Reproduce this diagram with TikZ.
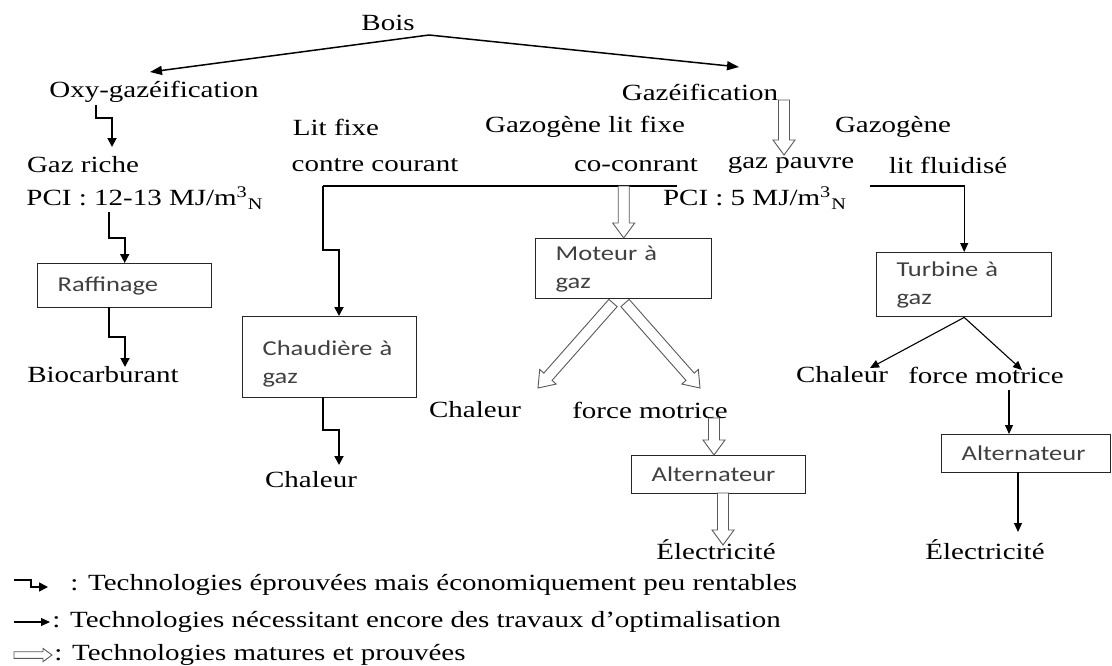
\documentclass[tikz,border=0pt]{standalone}
\usepackage{fontspec}
\setmainfont{Liberation Serif}[FakeStretch=1.25]
\newfontfamily\boxfont{Carlito}[FakeStretch=1.25]
\usetikzlibrary{arrows.meta,calc,positioning}

\tikzset{
  lbl/.style={inner sep=1pt, font=\fontsize{11.6}{13}\selectfont, text=black},
  procbox/.style={draw=black!85, line width=0.7pt, anchor=north west, align=left,
    inner xsep=10pt, inner ysep=2pt, font=\boxfont\fontsize{10.6}{14}\selectfont, text=black!75},
  devarrow/.style={line width=0.55pt, -{Triangle[length=4.5pt,width=4pt]}},
  steparrow/.style={line width=0.9pt, -{Triangle[length=4.5pt,width=4.5pt]}},
  fat/.style={draw=black!65, fill=white, line width=0.45pt, line join=miter},
}

% hollow arrow from #2 to #3, #1 = size factor
\newcommand{\fatarrow}[3][1]{%
  \coordinate (fatbase) at ($(#3)!{#1*7.5pt}!(#2)$);
  \draw[fat] ($(#2)!{#1*2.75pt}!90:(#3)$) -- ($(fatbase)!{#1*2.75pt}!-90:(#2)$)
    -- ($(fatbase)!{#1*5.5pt}!-90:(#2)$) -- (#3)
    -- ($(fatbase)!{#1*5.5pt}!90:(#2)$) -- ($(fatbase)!{#1*2.75pt}!90:(#2)$)
    -- ($(#2)!{#1*2.75pt}!-90:(#3)$) -- cycle;}

\begin{document}
\begin{tikzpicture}[x=0.5pt, y=-0.5pt]
    \useasboundingbox[fill=white] (0,0) rectangle (1112,665);

    % labels
    \foreach \n/\x/\y/\t in {bois/388/23/Bois, oxy/154/92/Oxy-gazéification,
        gazeif/700/92/Gazéification, litfixe/336/127/Lit fixe,
        gazolf/585/127/Gazogène lit fixe, gazogene/893/127/Gazogène,
        riche/83/165/Gaz riche, contre/375/165/contre courant,
        coconrant/636/165/co-conrant, pauvre/791/165/gaz pauvre,
        fluid/948/165/lit fluidisé,
        pcia/145/198/{PCI : 12-13 MJ/m\textsuperscript{3}\textsubscript{N}},
        pcib/755/198/{PCI : 5 MJ/m\textsuperscript{3}\textsubscript{N}},
        bio/103/375/Biocarburant, chaleura/311/480/Chaleur,
        chaleurb/475/410/Chaleur, forceb/650/410/force motrice,
        chaleurc/842/375/Chaleur, forcec/986/375/force motrice,
        elecb/716/550/Électricité, elecc/985/550/Électricité} {
        \node[lbl] (\n) at (\x,\y) {\t};
    }

    % boxes
    \node[procbox, minimum width=87pt, minimum height=22pt, text width=67pt] (raff) at (37,263) {Raffinage};
    \node[procbox, minimum width=87pt, minimum height=40.5pt, text width=67pt, text depth=9pt] (chaud) at (242,316) {Chaudière à\\gaz};
    \node[procbox, minimum width=88pt, minimum height=30pt, text width=68pt] (moteur) at (535,238) {Moteur à\\gaz};
    \node[procbox, minimum width=87.5pt, minimum height=32pt, text width=67.5pt] (turbine) at (876,252) {Turbine à\\gaz};
    \node[procbox, minimum width=87pt, minimum height=19pt, text width=67pt] (alta) at (631,455) {Alternateur};
    \node[procbox, minimum width=84.5pt, minimum height=19pt, text width=64.5pt] (altb) at (941,434) {Alternateur};

    % free ends
    \coordinate (fork) at (429,35);
    \coordinate (oxyin) at (150,72);
    \coordinate (gazin) at (739,67);
    \coordinate (oxyout) at (96,105);
    \coordinate (richein) at (112,147);
    \coordinate (gazout) at (784,100);
    \coordinate (pauvrein) at (784,155);
    \coordinate (busl) at (323,186);
    \coordinate (busm) at (677,186);
    \coordinate (busr) at (870,186);
    \coordinate (chaudin) at (339,316);
    \coordinate (pciout) at (109,212);
    \coordinate (raffout) at (109,307);
    \coordinate (bioin) at (125,367);
    \coordinate (chaudout) at (323,397);
    \coordinate (chaleurin) at (339,465);
    \coordinate (motl) at (613,303);
    \coordinate (motr) at (625,303);
    \coordinate (chaleurbin) at (538,388);
    \coordinate (forcebin) at (700,388);
    \coordinate (forcebout) at (714,418);
    \coordinate (altaout) at (723,493);
    \coordinate (elecbin) at (723,545);
    \coordinate (chaleurcin) at (870,368);
    \coordinate (forcecin) at (1022,370);
    \coordinate (forcecout) at (1009,390);
    \coordinate (altbout) at (1018,472);
    \coordinate (eleccin) at (1018,532);

    % Bois
    \draw[line width=0.75pt, -{Triangle[length=6pt,width=4.5pt]}] (fork) -- (oxyin);
    \draw[line width=0.75pt, -{Triangle[length=6pt,width=4.5pt]}] (fork) -- (gazin);

    % left branch
    \draw[steparrow] (oxyout) -- ++(0,13) -| (richein);
    \draw[steparrow] (pciout) -- ++(0,26) -| (raff.north);
    \draw[steparrow] (raffout) -- ++(0,30) -| (bioin);

    % gas distribution
    \fatarrow{gazout}{pauvrein}
    \draw[line width=0.6pt] (busl) -- (busm);
    \draw[steparrow] (busl) -- ++(0,64) -| (chaudin);
    \draw[steparrow] (chaudout) -- ++(0,33) -| (chaleurin);
    \draw[devarrow] (busr) -| (turbine.north);
    \fatarrow{moteur.north |- busl}{moteur.north}

    % moteur
    \fatarrow{motl}{chaleurbin}
    \fatarrow{motr}{forcebin}
    \fatarrow{forcebout}{forcebout |- alta.north}
    \fatarrow{altaout}{elecbin}

    % turbine
    \draw[devarrow] (turbine.south) -- (chaleurcin);
    \draw[devarrow] (turbine.south) -- (forcecin);
    \draw[devarrow] (forcecout) -- (forcecout |- altb.north);
    \draw[devarrow] (altbout) -- (eleccin);

    % legend
    \coordinate (lega) at (14,580);
    \coordinate (legb) at (48,587);
    \coordinate (legc) at (14,622);
    \coordinate (legd) at (50,622);
    \coordinate (lege) at (14,655);
    \coordinate (legf) at (52,655);
    \draw[steparrow, line width=0.8pt] (lega) -- ++(17,0) |- (legb);
    \draw[devarrow] (legc) -- (legd);
    \fatarrow[0.6]{lege}{legf}
    \node[lbl, anchor=west] (lgone) at (68,585) {: Technologies éprouvées mais économiquement peu rentables};
    \node[lbl, anchor=west] (lgtwo) at (50,622) {: Technologies nécessitant encore des travaux d’optimalisation};
    \node[lbl, anchor=west] (lgthree) at (52,655) {: Technologies matures et prouvées};
\end{tikzpicture}
\end{document}
